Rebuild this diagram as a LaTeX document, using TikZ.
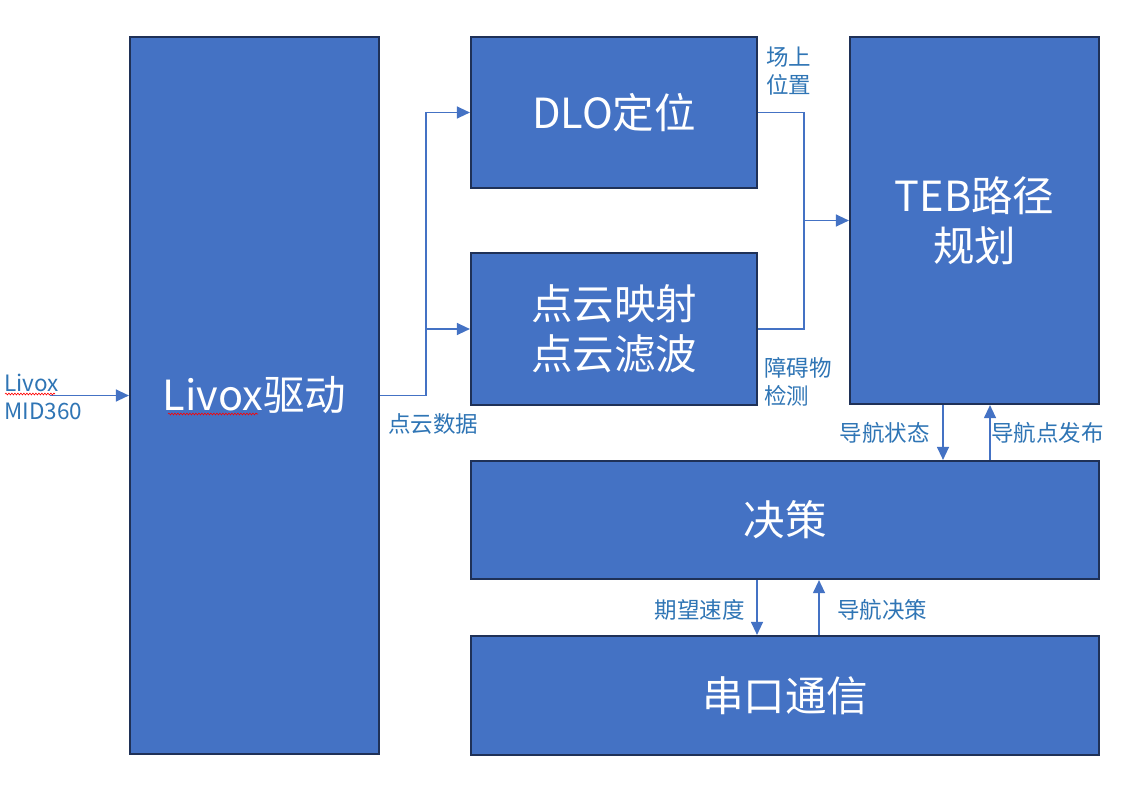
\documentclass[tikz,border=0pt]{standalone}
\usepackage{fontspec}
\setmainfont{Noto Sans CJK SC}
\usetikzlibrary{arrows.meta,decorations.pathmorphing}
\definecolor{boxfill}{HTML}{4472C4}
\definecolor{boxline}{HTML}{1F3157}
\definecolor{conn}{HTML}{4472C4}
\definecolor{lbl}{HTML}{2F75B5}
\tikzset{
  box/.style={draw=boxline, fill=boxfill, line width=2.2pt, text=white, inner sep=0pt, align=center,
    font=\fontsize{41.5}{50}\selectfont},
  link/.style={draw=conn, line width=1.3pt},
  arr/.style={link, -{Triangle[length=13pt,width=12pt]}},
  lab/.style={text=lbl, inner sep=0pt, align=left, font=\fontsize{22.5}{28}\selectfont},
  squig/.style={draw=red, line width=0.6pt, decorate, decoration={snake, amplitude=0.9pt, segment length=3pt}}
}
\begin{document}
\begin{tikzpicture}[x=1pt,y=-1pt]
\useasboundingbox (0,0) rectangle (1131,790);
\fill[white] (0,0) rectangle (1131,790);
% boxes
\node[box, minimum width=249pt, minimum height=717pt] (livox) at (254.5,395.5) {Livox驱动};
\node[box, minimum width=286pt, minimum height=151pt] (dlo) at (614,112.5) {DLO定位};
\node[box, minimum width=286pt, minimum height=152pt] (pc) at (614,329) {点云映射\\点云滤波};
\node[box, minimum width=249pt, minimum height=367pt] (teb) at (974.5,220.5) {TEB路径\\规划};
\node[box, minimum width=628pt, minimum height=118pt] (dec) at (785,520) {决策};
\node[box, minimum width=628pt, minimum height=119pt] (ser) at (785,695.5) {串口通信};
% spell-check underline
\draw[squig] (168,414) -- (258,414);
% input
\coordinate (in) at (50,395.5);
\draw[arr] (in) -- (livox.west);
\node[lab, anchor=west] (inlab) at (4,397) {Livox\\MID360};
\draw[squig] (5,394) -- (55,394);
% livox -> dlo / pc
\coordinate (split) at (426,395.5);
\draw[link] (livox.east) -- (split);
\draw[arr] (split) |- (dlo.west);
\draw[arr] (split) |- (pc.west);
\node[lab, anchor=west] (pcd) at (388,424) {点云数据};
% dlo / pc -> teb
\coordinate (merge) at (804,220.5);
\draw[link] (dlo.east) -| (merge);
\draw[link] (pc.east) -| (merge);
\draw[arr] (merge) -- (teb.west);
\node[lab, anchor=west] (pos) at (766,71) {场上\\位置};
\node[lab, anchor=west] (obs) at (764,382) {障碍物\\检测};
% teb <-> decision
\draw[arr] (teb.south -| 943,0) -- (dec.north -| 943,0);
\draw[arr] (dec.north -| 990,0) -- (teb.south -| 990,0);
\node[lab, anchor=east] (navst) at (930,433) {导航状态};
\node[lab, anchor=west] (navpt) at (991,433) {导航点发布};
% decision <-> serial
\draw[arr] (dec.south -| 757,0) -- (ser.north -| 757,0);
\draw[arr] (ser.north -| 819,0) -- (dec.south -| 819,0);
\node[lab, anchor=east] (vel) at (745,610) {期望速度};
\node[lab, anchor=west] (navdec) at (837,610) {导航决策};
\end{tikzpicture}
\end{document}
